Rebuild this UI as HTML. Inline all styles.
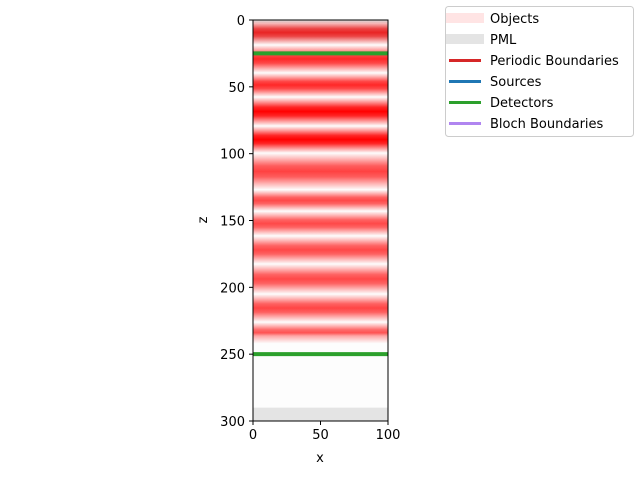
<!DOCTYPE html>
<html><head><meta charset="utf-8"><style>
body{margin:0;background:#fff;width:640px;height:480px;overflow:hidden}
text{font-family:"DejaVu Sans","Liberation Sans",sans-serif;fill:#000}
</style></head><body>
<svg id="chart" width="640" height="480" xmlns="http://www.w3.org/2000/svg">
<defs id="defs"></defs>
<g id="plot"></g>
<g id="axes"></g>
<g id="legend">
<rect x="445.5" y="6.5" width="188" height="130" rx="3" fill="#fff" fill-opacity="0.8" stroke="#ccc"/>
<rect x="446" y="13" width="38" height="10" fill="#ffe4e4"/>
<text x="490" y="23" font-size="13">Objects</text>
<rect x="446" y="34" width="38" height="10" fill="#e4e4e4"/>
<text x="490" y="44" font-size="13">PML</text>
<line x1="449" x2="481" y1="60.5" y2="60.5" stroke="#d62728" stroke-width="3"/>
<text x="490" y="65" font-size="13">Periodic Boundaries</text>
<line x1="449" x2="481" y1="81.5" y2="81.5" stroke="#1f77b4" stroke-width="3"/>
<text x="490" y="86" font-size="13">Sources</text>
<line x1="449" x2="481" y1="102.5" y2="102.5" stroke="#2ca02c" stroke-width="3"/>
<text x="490" y="107" font-size="13">Detectors</text>
<line x1="449" x2="481" y1="123.5" y2="123.5" stroke="#b085f0" stroke-width="3"/>
<text x="490" y="128" font-size="13">Bloch Boundaries</text>
</g>
</svg>
<script>
// band data (z ranges and intensity)
const bandStart=[0,18.7,39.6,57.6,79.3,99.5,127,143,161.5,182.5,205,226];
const bandEnd=[18.7,39.6,57.6,79.3,99.5,127,143,161.5,182.5,205,226,242];
const bandAlpha=[0.95,0.9,0.92,1,1,0.85,0.85,0.85,0.85,0.85,0.85,0.8];
const bandColor=["#e81818","#ff1010","#ff1515","#ff0000","#ff0000","#ff2020","#ff2828","#ff2828","#ff2828","#ff2828","#ff2424","#ff2828"];
const detectorZ=[25,250];
const pmlZ=[[0,2],[290,300]];
const xTicks=[0,50,100];
const zTicks=[0,50,100,150,200,250,300];
const X0=253,X1=388,Y0=20,Y1=421;
const xs=v=>X0+(v/100)*(X1-X0);
const zs=v=>Y0+(v/300)*(Y1-Y0);
const NS="http://www.w3.org/2000/svg";
const plot=document.getElementById('plot'),axes=document.getElementById('axes'),defs=document.getElementById('defs');
function mk(t,a,p){const e=document.createElementNS(NS,t);for(const k in a)e.setAttribute(k,a[k]);p.appendChild(e);return e;}
const bg=mk('rect',{x:X0,y:Y0,width:X1-X0,height:Y1-Y0,fill:'#fdfdfd'},plot);


pmlZ.forEach((p,i)=>{const r=mk('rect',{x:X0,y:zs(p[0]),width:X1-X0,height:zs(p[1])-zs(p[0]),fill:'#e4e4e4'},plot);

});
bandStart.forEach((s,i)=>{
 const g=mk('linearGradient',{id:'g'+i,x1:0,y1:0,x2:0,y2:1},defs);
 const last=i===bandStart.length-1;
 [[0,0],[0.15,0.35],[0.35,0.85],[0.5,1],[0.65,0.85],[0.85,0.35],[1,0]].forEach(st=>{
  mk('stop',{offset:st[0],'stop-color':bandColor[i],'stop-opacity':(last&&st[0]>0.5?st[1]*0.6:st[1])*bandAlpha[i]},g);});
 const r=mk('rect',{x:X0,y:zs(s),width:X1-X0,height:zs(bandEnd[i])-zs(s),fill:'url(#g'+i+')'},plot);
 
 
});
detectorZ.forEach(z=>{const l=mk('line',{x1:X0,x2:X1,y1:zs(z),y2:zs(z),stroke:'#2ca02c','stroke-width':4},plot);

});
const fr=mk('rect',{x:X0,y:Y0,width:X1-X0,height:Y1-Y0,fill:'none',stroke:'#000','stroke-width':1},axes);


xTicks.forEach(v=>{mk('line',{x1:xs(v),x2:xs(v),y1:Y1,y2:Y1+4,stroke:'#000'},axes);
 const t=mk('text',{x:xs(v),y:Y1+18,'text-anchor':'middle','font-size':13},axes);t.textContent=v;
 
 });
zTicks.forEach(v=>{mk('line',{x1:X0-4,x2:X0,y1:zs(v),y2:zs(v),stroke:'#000'},axes);
 const t=mk('text',{x:X0-8,y:zs(v)+5,'text-anchor':'end','font-size':13},axes);t.textContent=v;
 
 });
const xl=mk('text',{x:320,y:462,'text-anchor':'middle','font-size':13},axes);xl.textContent='x';


const zl=mk('text',{x:207,y:220,'text-anchor':'middle','font-size':13,transform:'rotate(-90 207 220)'},axes);zl.textContent='z';


</script>
</body></html>
